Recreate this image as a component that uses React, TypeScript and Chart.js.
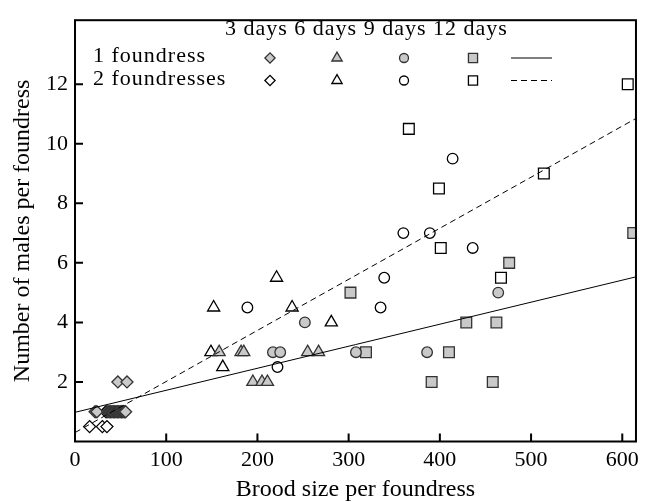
import React, { useEffect, useRef } from 'react';
import { Chart, registerables } from 'chart.js';

Chart.register(...registerables);

const FONT = "'Liberation Serif', 'Times New Roman', serif";

// Axis ticks
const xTickValues = [0, 100, 200, 300, 400, 500, 600];
const yTickValues = [2, 4, 6, 8, 10, 12];

// Legend text
const dayLabels = ['3 days', '6 days', '9 days', '12 days'];
const groupLabels = ['1 foundress', '2 foundresses'];

// 1 foundress (grey markers)
const oneDay3X = [47, 57, 22, 24, 36, 37.5, 39, 40.5, 42, 43.5, 45, 46.5, 48, 49.5, 51, 52.5, 54, 55.5];
const oneDay3Y = [2, 2, 1, 1, 1, 1, 1, 1, 1, 1, 1, 1, 1, 1, 1, 1, 1, 1];
const oneDay6X = [158, 182, 185, 255, 267, 195, 205, 211];
const oneDay6Y = [3, 3, 3, 3, 3, 2, 2, 2];
const oneDay9X = [252, 217, 225, 308, 386, 464];
const oneDay9Y = [4, 3, 3, 3, 3, 5];
const oneDay12X = [302, 319, 410, 391, 458, 429, 462, 476, 612];
const oneDay12Y = [5, 3, 3, 2, 2, 4, 4, 6, 7];

// 2 foundresses (open markers)
const twoDay3X = [16, 30, 35, 34];
const twoDay3Y = [0.5, 0.5, 0.5, 1];
const twoDay6X = [221, 152, 238, 281, 149, 162];
const twoDay6Y = [5.5, 4.5, 4.5, 4, 3, 2.5];
const twoDay9X = [189, 222, 339, 335, 414, 360, 389, 436];
const twoDay9Y = [4.5, 2.5, 5.5, 4.5, 9.5, 7, 7, 6.5];
const twoDay12X = [606, 366, 399, 514, 401, 467];
const twoDay12Y = [12, 10.5, 8.5, 9, 6.5, 5.5];

// Fitted lines (end points)
const fitX = [0, 615];
const fitOneY = [0.98, 5.53];
const fitTwoY = [0.3, 10.85];

const zip = (xs: number[], ys: number[]) => xs.map((x, i) => ({ x, y: ys[i] }));

const GREY = '#c9c9c9';
const GREY_BORDER = '#333333';

const styles = ['rectRot', 'triangle', 'circle', 'rect'];
const radii = [6, 7, 5.3, 7.6];

function drawMarker(ctx: CanvasRenderingContext2D, style: string, x: number, y: number, r: number, fill: string, stroke: string) {
  ctx.beginPath();
  if (style === 'circle') {
    ctx.arc(x, y, r, 0, Math.PI * 2);
  } else if (style === 'rect') {
    const s = Math.SQRT1_2 * r;
    ctx.rect(x - s, y - s, 2 * s, 2 * s);
  } else if (style === 'rectRot') {
    ctx.moveTo(x - r, y);
    ctx.lineTo(x, y - r);
    ctx.lineTo(x + r, y);
    ctx.lineTo(x, y + r);
    ctx.closePath();
  } else if (style === 'triangle') {
    const a = (2 * Math.PI) / 3;
    ctx.moveTo(x, y - r);
    ctx.lineTo(x + Math.sin(a) * r, y - Math.cos(a) * r);
    ctx.lineTo(x + Math.sin(2 * a) * r, y - Math.cos(2 * a) * r);
    ctx.closePath();
  }
  ctx.fillStyle = fill;
  ctx.fill();
  ctx.strokeStyle = stroke;
  ctx.lineWidth = 1.3;
  ctx.stroke();
}

const framePlugin = {
  id: 'framePlugin',
  afterDraw(chart: any) {
    const { ctx, chartArea } = chart;
    const { left, right, top, bottom } = chartArea;
    const xs = chart.scales.x;
    const ys = chart.scales.y;
    ctx.save();
    ctx.strokeStyle = '#000';
    ctx.lineWidth = 2;
    ctx.strokeRect(left, top, right - left, bottom - top);
    ctx.beginPath();
    for (const v of xTickValues) {
      if (v === 0) continue;
      const px = xs.getPixelForValue(v);
      ctx.moveTo(px, bottom);
      ctx.lineTo(px, bottom - 8);
    }
    for (const v of yTickValues) {
      const py = ys.getPixelForValue(v);
      ctx.moveTo(left, py);
      ctx.lineTo(left + 8, py);
    }
    ctx.stroke();

    // Legend
    ctx.fillStyle = '#000';
    ctx.font = `22px ${FONT}`;
    try {
      (ctx as any).letterSpacing = '1px';
    } catch (e) {
      /* ignore */
    }
    ctx.textBaseline = 'alphabetic';
    ctx.textAlign = 'left';
    ctx.fillText(dayLabels.join(' '), 225, 35);
    const rowY = [58, 80.5];
    const rowBase = [62, 85];
    const colX = [270, 337, 404, 473];
    groupLabels.forEach((label, ri) => {
      ctx.fillStyle = '#000';
      ctx.fillText(label, 93, rowBase[ri]);
      styles.forEach((st, ci) => {
        const r = radii[ci] * 0.85;
        drawMarker(ctx, st, colX[ci], rowY[ri], r, ri === 0 ? GREY : '#ffffff', ri === 0 ? GREY_BORDER : '#000');
      });
      ctx.beginPath();
      ctx.strokeStyle = '#000';
      ctx.lineWidth = 1;
      ctx.setLineDash(ri === 0 ? [] : [6, 4]);
      ctx.moveTo(511, rowY[ri]);
      ctx.lineTo(552, rowY[ri]);
      ctx.stroke();
      ctx.setLineDash([]);
    });
    ctx.restore();
  },
};

export default function App() {
  const ref = useRef<HTMLCanvasElement | null>(null);
  useEffect(() => {
    document.body.style.margin = '0';
    const canvas = ref.current;
    if (!canvas) return;
    const pointSet = (label: string, xs: number[], ys: number[], si: number, filled: boolean) => ({
      type: 'scatter' as const,
      label,
      data: zip(xs, ys),
      pointStyle: styles[si],
      pointRadius: radii[si],
      pointHoverRadius: radii[si],
      pointBackgroundColor: filled ? GREY : '#ffffff',
      pointBorderColor: filled ? GREY_BORDER : '#000000',
      pointBorderWidth: 1.3,
      showLine: false,
    });
    const chart = new Chart(canvas, {
      type: 'scatter',
      data: {
        datasets: [
          {
            type: 'line' as const,
            label: '1 foundress fit',
            data: zip(fitX, fitOneY),
            borderColor: '#000',
            borderWidth: 1,
            pointRadius: 0,
            fill: false,
          },
          {
            type: 'line' as const,
            label: '2 foundresses fit',
            data: zip(fitX, fitTwoY),
            borderColor: '#000',
            borderWidth: 1,
            borderDash: [6, 4],
            pointRadius: 0,
            fill: false,
          },
          pointSet('1 foundress 3 days', oneDay3X, oneDay3Y, 0, true),
          pointSet('1 foundress 6 days', oneDay6X, oneDay6Y, 1, true),
          pointSet('1 foundress 9 days', oneDay9X, oneDay9Y, 2, true),
          pointSet('1 foundress 12 days', oneDay12X, oneDay12Y, 3, true),
          pointSet('2 foundresses 3 days', twoDay3X, twoDay3Y, 0, false),
          pointSet('2 foundresses 6 days', twoDay6X, twoDay6Y, 1, false),
          pointSet('2 foundresses 9 days', twoDay9X, twoDay9Y, 2, false),
          pointSet('2 foundresses 12 days', twoDay12X, twoDay12Y, 3, false),
        ] as any,
      },
      options: {
        responsive: false,
        animation: false,
        layout: { padding: { top: 12, right: 5, left: 0, bottom: 0 } },
        plugins: { legend: { display: false }, tooltip: { enabled: false } },
        scales: {
          x: {
            type: 'linear',
            min: 0,
            max: 615,
            grid: { display: false, drawTicks: false },
            border: { display: false },
            afterBuildTicks: (s: any) => {
              s.ticks = xTickValues.map((v) => ({ value: v }));
            },
            afterFit: (s: any) => {
              s.height = 60.5;
            },
            ticks: {
              padding: 6,
              color: '#000',
              font: { family: FONT, size: 22 },
              maxRotation: 0,
              autoSkip: false,
            },
            title: {
              display: true,
              text: 'Brood size per foundress',
              color: '#000',
              font: { family: FONT, size: 24, lineHeight: 1.0 },
              padding: { top: 0, bottom: 0 },
            },
          },
          y: {
            type: 'linear',
            min: 0,
            max: 14.15,
            grid: { display: false, drawTicks: false },
            border: { display: false },
            afterBuildTicks: (s: any) => {
              s.ticks = yTickValues.map((v) => ({ value: v }));
            },
            afterFit: (s: any) => {
              s.width = 75;
            },
            ticks: {
              padding: 7,
              color: '#000',
              font: { family: FONT, size: 22 },
              autoSkip: false,
            },
            title: {
              display: true,
              text: 'Number of males per foundress',
              color: '#000',
              font: { family: FONT, size: 24, lineHeight: 1.0 },
              padding: { top: 11, bottom: 0 },
            },
          },
        },
      },
      plugins: [framePlugin],
    });
    return () => chart.destroy();
  }, []);
  return (
    <div style={{ width: 645, height: 502, background: '#fff' }}>
      <canvas ref={ref} width={645} height={502} style={{ display: 'block' }} />
    </div>
  );
}
